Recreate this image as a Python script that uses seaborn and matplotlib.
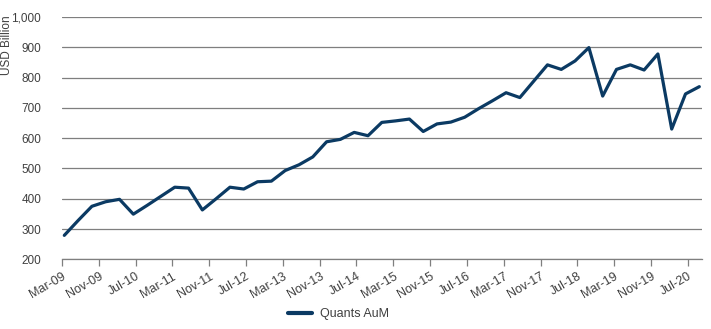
import numpy as np
import pandas as pd
import matplotlib
matplotlib.use("Agg")
import matplotlib.pyplot as plt
import seaborn as sns

# Quarter-end observations, Mar-09 to Sep-20
quarters = pd.date_range("2009-03-01", "2020-09-01", freq="3MS")
aum = [279, 328, 375, 390, 398, 349, 378, 408, 438, 435, 363, 400,
       438, 432, 456, 458, 493, 512, 538, 588, 596, 619, 608, 652,
       657, 663, 622, 647, 653, 669, 697, 723, 750, 734, 788, 842,
       827, 855, 899, 739, 827, 842, 825, 878, 630, 746, 770]
tick_labels = ["Mar-09", "Nov-09", "Jul-10", "Mar-11", "Nov-11", "Jul-12",
               "Mar-13", "Nov-13", "Jul-14", "Mar-15", "Nov-15", "Jul-16",
               "Mar-17", "Nov-17", "Jul-18", "Mar-19", "Nov-19", "Jul-20"]
y_ticks = [200, 300, 400, 500, 600, 700, 800, 900, 1000]

sns.set_theme(style="white")
plt.rcParams["font.family"] = ["Liberation Sans", "DejaVu Sans"]

start = pd.Timestamp("2009-03-01")
# month offset from Mar-09, points placed mid-month
months = [(q.year - start.year) * 12 + (q.month - start.month) + 0.5 for q in quarters]
df = pd.DataFrame({"month": months, "AuM": aum, "series": "Quants AuM"})

fig = plt.figure(figsize=(7.11, 3.29), dpi=100)
ax = fig.add_axes([0.0872, 0.2119, 0.8996, 0.7364])

line_color = "#0b3a63"
sns.lineplot(data=df, x="month", y="AuM", hue="series", palette=[line_color],
             linewidth=2.3, ax=ax, legend=False)

ax.set_xlim(0, 139)
ax.set_ylim(200, 1000)
ax.set_yticks(y_ticks)
ax.set_yticklabels([f"{v:,}" for v in y_ticks])
ax.yaxis.grid(True, color="#7f7f7f", linewidth=0.9)
ax.set_axisbelow(True)

ax.set_xticks(np.arange(0, 8 * len(tick_labels), 8))
ax.set_xticklabels(tick_labels, rotation=30, ha="right", rotation_mode="anchor")

for side in ["top", "right", "left"]:
    ax.spines[side].set_visible(False)
ax.spines["bottom"].set_color("#7f7f7f")
ax.spines["bottom"].set_linewidth(0.9)

label_color = "#404040"
fs = 9
ax.tick_params(axis="x", which="major", bottom=True, length=5, width=0.9,
               color="#7f7f7f", labelsize=fs, labelcolor=label_color, pad=3)
ax.tick_params(axis="y", left=False, labelsize=8.5, labelcolor=label_color, pad=9)

ax.set_xlabel("")
ax.set_ylabel("USD Billion", fontsize=8.5, color=label_color)
ax.yaxis.set_label_coords(-0.077, 0.885)

handle = plt.Line2D([], [], color=line_color, linewidth=3)
fig.legend([handle], ["Quants AuM"], loc="center", bbox_to_anchor=(0.476, 0.045),
           frameon=False, fontsize=fs, handlelength=1.9, handletextpad=0.6,
           labelcolor=label_color)

fig.savefig("out.png", dpi=100)
